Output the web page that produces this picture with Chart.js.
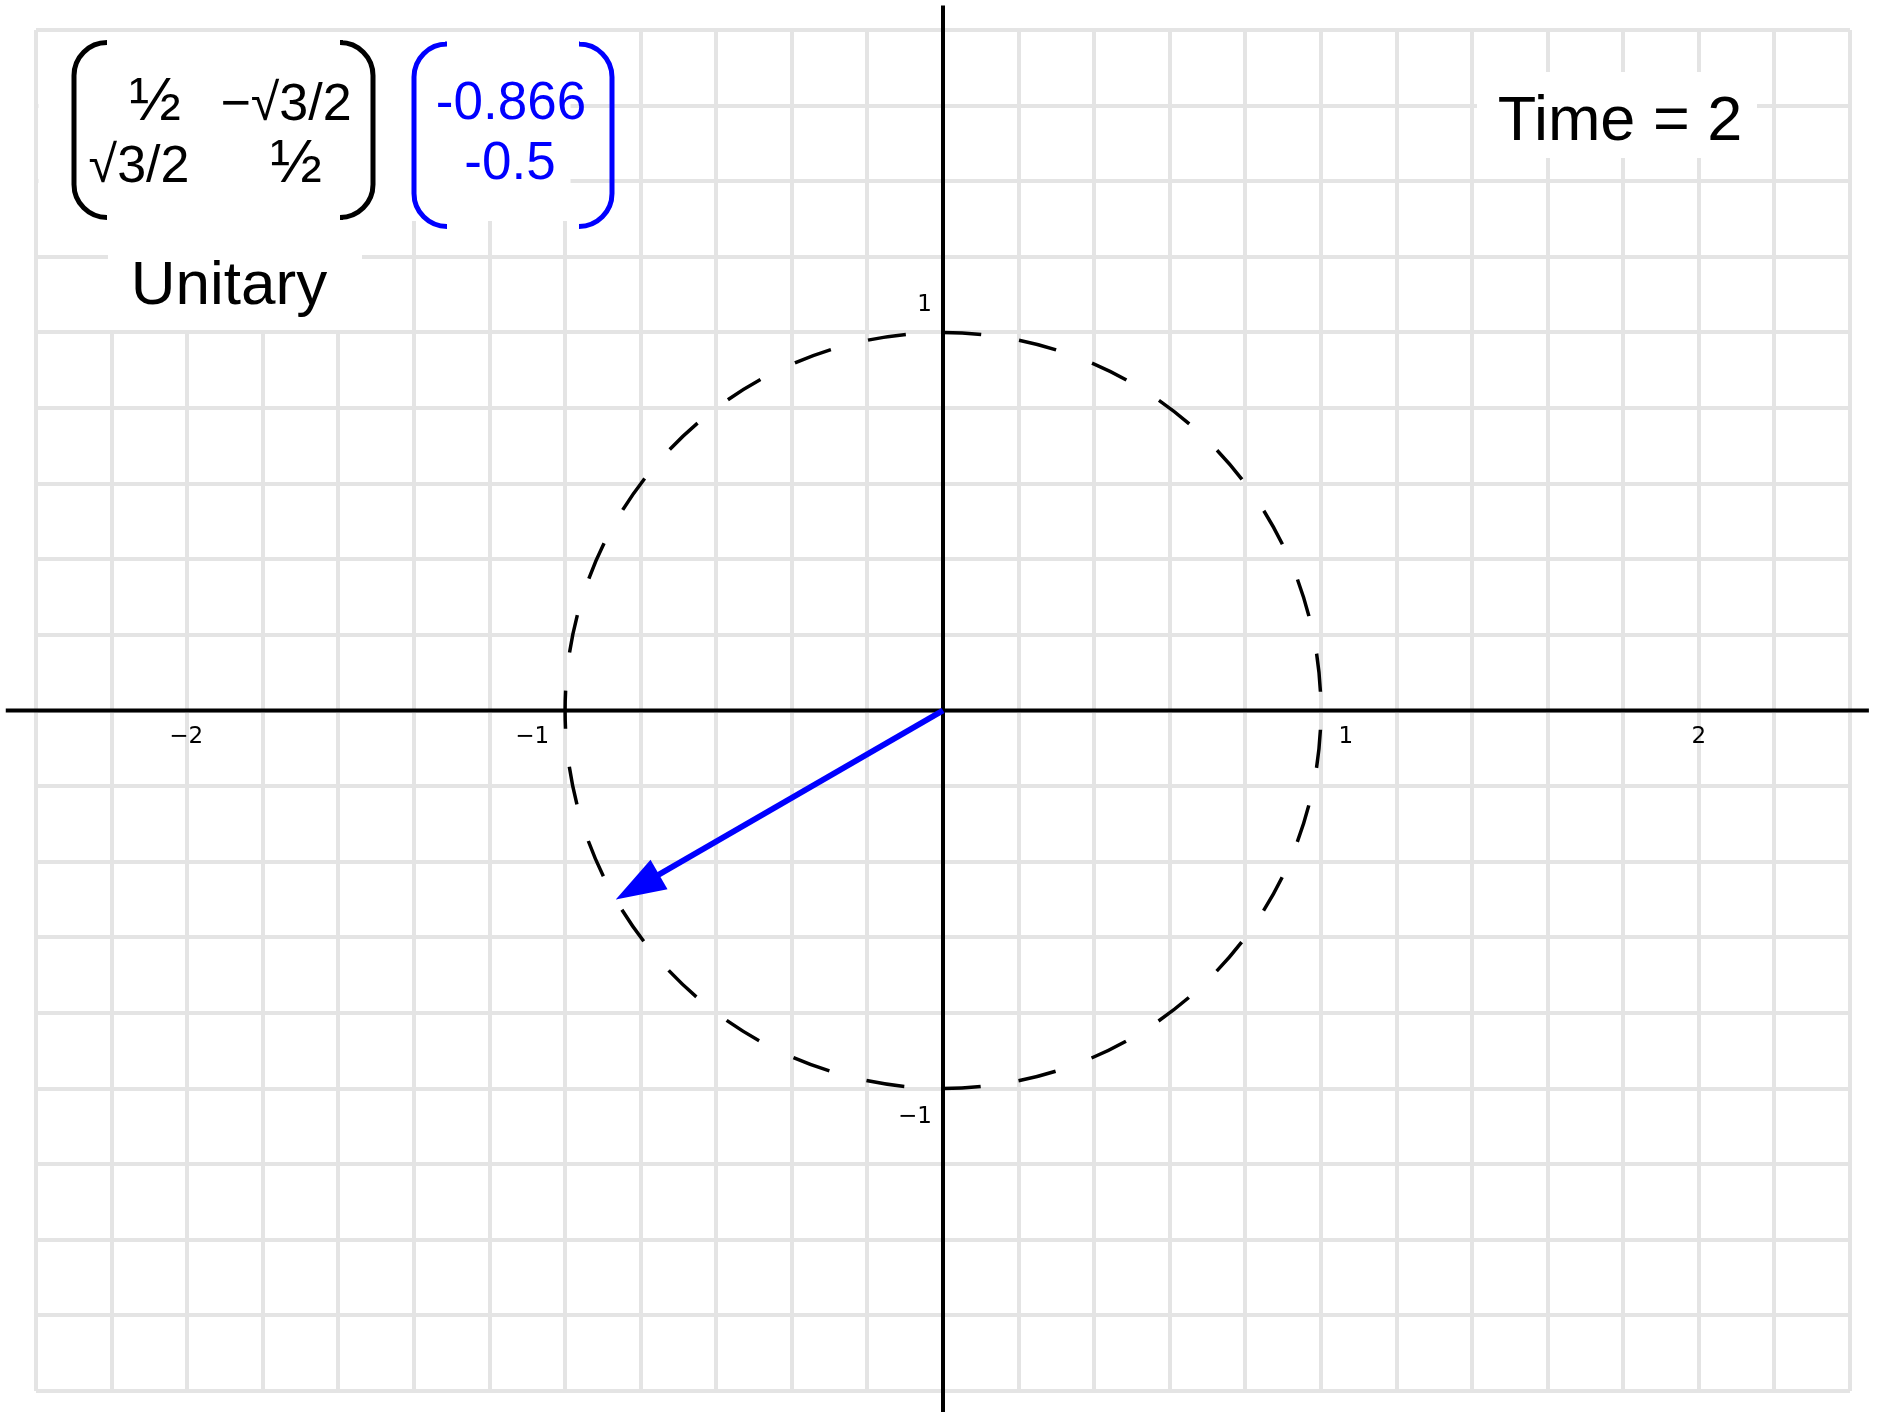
<!DOCTYPE html>
<html>
<head>
<meta charset="utf-8">
<script src="https://cdn.jsdelivr.net/npm/chart.js@4/dist/chart.umd.min.js"></script>
<style>
  html, body { margin: 0; padding: 0; background: #fff; }
  canvas { display: block; }
</style>
</head>
<body>
<canvas id="plane" width="1883" height="1412"></canvas>
<script>
// plane extents and grid step
const xRange = [-2.4, 2.4];
const yRange = [-1.8, 1.8];
const gridStep = 0.2;

// axis lines (they run a bit past the grid)
const axisXLine = [-2.48, 2.45];
const axisYLine = [-1.95, 1.865];

// unit circle and the rotated vector
const circleRadius = 1;
const vectorX = [-0.866];
const vectorY = [-0.5];

// tick labels
const xTickValues = [-2, -1, 1, 2];
const xTickLabels = ['\u22122', '\u22121', '1', '2'];
const yTickValues = [1, -1];
const yTickLabels = ['1', '\u22121'];

// text in the corners
const matrixRows = [['\u00bd', '\u2212\u221a3/2'], ['\u221a3/2', '\u00bd']];
const vectorRows = ['-0.866', '-0.5'];
const matrixTitle = 'Unitary';
const timeLabel = 'Time = 2';

// pixel nudges for the tick labels, same order as the values above
const xTickShift = [-1, -33, 25, 0];
const yTickShift = [-21, 34];

function bracket(ctx, xEdge, xEnd, top, bottom, r) {
    ctx.beginPath();
    ctx.moveTo(xEnd, top);
    ctx.arcTo(xEdge, top, xEdge, top + r, r);
    ctx.lineTo(xEdge, bottom - r);
    ctx.arcTo(xEdge, bottom, xEnd, bottom, r);
    ctx.lineTo(xEnd, bottom);
    ctx.stroke();
}

// the half glyph is drawn a little larger, like in the original
function cell(ctx, text, x, y) {
    ctx.font = text === '\u00bd' ? '62px "Liberation Sans"' : '52px "Liberation Sans"';
    ctx.fillText(text, x, y);
}

const overlay = {
    id: 'overlay',
    beforeDatasetsDraw(chart) {
        // white boxes that hide the grid behind the labels
        const ctx = chart.ctx;
        ctx.save();
        ctx.fillStyle = '#ffffff';
        ctx.fillRect(38.5, 32, 532, 189);
        ctx.fillRect(108, 221, 254, 109);
        ctx.fillRect(1477, 72, 280, 86);
        ctx.restore();
    },
    afterDatasetsDraw(chart) {
        const ctx = chart.ctx;
        const xs = chart.scales.x, ys = chart.scales.y;
        const cx = xs.getPixelForValue(0), cy = ys.getPixelForValue(0);

        // dashed unit circle, starts at the top and runs clockwise
        const r = xs.getPixelForValue(circleRadius) - cx;
        ctx.save();
        ctx.strokeStyle = '#000000';
        ctx.lineWidth = 3.5;
        ctx.setLineDash([38.3, 38.3]);
        ctx.beginPath();
        ctx.arc(cx, cy, r, -Math.PI / 2, Math.PI * 1.5, false);
        ctx.stroke();
        ctx.restore();

        // vector arrow
        const tx = xs.getPixelForValue(vectorX[0]), ty = ys.getPixelForValue(vectorY[0]);
        const len = Math.hypot(tx - cx, ty - cy);
        const ux = (tx - cx) / len, uy = (ty - cy) / len;
        const headLen = 50, headHalf = 17;
        const bx = tx - ux * headLen, by = ty - uy * headLen;
        ctx.save();
        ctx.strokeStyle = '#0000ff';
        ctx.fillStyle = '#0000ff';
        ctx.lineWidth = 6;
        ctx.beginPath();
        ctx.moveTo(cx, cy);
        ctx.lineTo(bx + ux * 2, by + uy * 2);
        ctx.stroke();
        ctx.beginPath();
        ctx.moveTo(tx, ty);
        ctx.lineTo(bx - uy * headHalf, by + ux * headHalf);
        ctx.lineTo(bx + uy * headHalf, by - ux * headHalf);
        ctx.closePath();
        ctx.fill();
        ctx.restore();
    },
    afterDraw(chart) {
        const ctx = chart.ctx;
        const xs = chart.scales.x, ys = chart.scales.y;
        ctx.save();

        // tick labels
        ctx.fillStyle = '#000000';
        ctx.font = '23px "DejaVu Sans"';
        ctx.textBaseline = 'alphabetic';
        ctx.textAlign = 'center';
        const axisY = ys.getPixelForValue(0);
        xTickValues.forEach((v, i) => {
            ctx.fillText(xTickLabels[i], xs.getPixelForValue(v) + xTickShift[i], axisY + 32);
        });
        ctx.textAlign = 'right';
        const axisX = xs.getPixelForValue(0);
        yTickValues.forEach((v, i) => {
            ctx.fillText(yTickLabels[i], axisX - 11, ys.getPixelForValue(v) + yTickShift[i]);
        });

        // matrix
        ctx.lineWidth = 5;
        ctx.strokeStyle = '#000000';
        bracket(ctx, 74, 107, 42.5, 217.5, 33);
        bracket(ctx, 373, 343, 42.5, 217.5, 33);
        ctx.textAlign = 'center';
        cell(ctx, matrixRows[0][0], 155, 120);
        cell(ctx, matrixRows[0][1], 286, 120);
        cell(ctx, matrixRows[1][0], 139, 182);
        cell(ctx, matrixRows[1][1], 296, 182);

        // vector
        ctx.strokeStyle = '#0000ff';
        bracket(ctx, 414, 445, 44, 226.5, 33);
        bracket(ctx, 612, 580, 44, 226.5, 33);
        ctx.fillStyle = '#0000ff';
        ctx.font = '53px "Liberation Sans"';
        ctx.fillText(vectorRows[0], 511, 119);
        ctx.fillText(vectorRows[1], 510, 179);

        // titles
        ctx.fillStyle = '#000000';
        ctx.font = '62px "Liberation Sans"';
        ctx.fillText(matrixTitle, 229, 304);
        ctx.font = '63px "Liberation Sans"';
        ctx.fillText(timeLabel, 1620, 140);

        ctx.restore();
    }
};

const gridScale = (range) => ({
    type: 'linear',
    min: range[0],
    max: range[1],
    ticks: { display: false, stepSize: gridStep, autoSkip: false },
    grid: { color: '#e4e4e4', lineWidth: 4, drawTicks: false },
    border: { display: false },
});

const ctx = document.getElementById('plane').getContext('2d');
new Chart(ctx, {
    type: 'scatter',
    data: {
        datasets: [
            {
                label: 'x axis',
                data: axisXLine.map((x) => ({ x: x, y: 0 })),
                showLine: true,
                borderColor: '#000000',
                borderWidth: 4,
                pointRadius: 0,
                clip: false,
            },
            {
                label: 'y axis',
                data: axisYLine.map((y) => ({ x: 0, y: y })),
                showLine: true,
                borderColor: '#000000',
                borderWidth: 4,
                pointRadius: 0,
                clip: false,
            },
        ],
    },
    options: {
        responsive: false,
        animation: false,
        devicePixelRatio: 1,
        events: [],
        layout: { padding: { left: 36, right: 33, top: 30, bottom: 21 } },
        plugins: {
            legend: { display: false },
            tooltip: { enabled: false },
        },
        scales: {
            x: gridScale(xRange),
            y: gridScale(yRange),
        },
    },
    plugins: [overlay],
});
</script>
</body>
</html>
